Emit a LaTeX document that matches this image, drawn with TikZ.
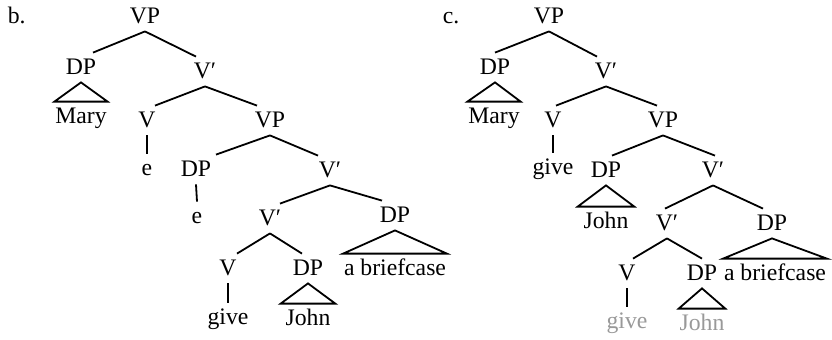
\documentclass[tikz,border=0pt]{standalone}
\usepackage{fontspec}
\setmainfont{Liberation Serif}
\usepackage{tikz}

\tikzset{
  lbl/.style={anchor=base, font=\fontsize{11.85}{14}\selectfont, text height=7pt, text depth=0.5pt, inner xsep=0pt, inner ysep=3.25pt},
  copy/.style={lbl, text=black!40},
}

\begin{document}
\begin{tikzpicture}[x=0.5pt,y=-0.5pt,line width=0.9pt]
\useasboundingbox (0,0) rectangle (832,339);

%tree b
\node[lbl,anchor=base west] (lblb) at (7,23) {b.};
\node[lbl] (bVP) at (145,23) {VP};
\node[lbl] (bDP) at (81,74) {DP};
\node[lbl] (bVbar) at (205,78) {V′};
\node[lbl] (bMary) at (81,123) {Mary};
\node[lbl] (bV) at (147,127) {V};
\node[lbl] (bVPb) at (270,127) {VP};
\node[lbl] (bea) at (147,175) {e};
\node[lbl] (bDPb) at (196,176) {DP};
\node[lbl] (bVbarb) at (330,177) {V′};
\node[lbl] (beb) at (197,223) {e};
\node[lbl] (bVbarc) at (270,225) {V′};
\node[lbl] (bDPc) at (395,222) {DP};
\node[lbl] (bVb) at (228,275) {V};
\node[lbl] (bDPd) at (308,275) {DP};
\node[lbl] (bcase) at (395,275) {a briefcase};
\node[lbl] (bgive) at (228,324) {give};
\node[lbl,inner xsep=2pt] (bJohn) at (308,325) {John};

\draw (bVP.south) -- ([xshift=6pt]bDP.north);
\draw (bVP.south) -- ([xshift=-4.5pt]bVbar.north);
\draw (bDP.south) -- (bMary.north west) -- (bMary.north east) -- cycle;
\draw (bVbar.south) -- ([xshift=4pt]bV.north);
\draw (bVbar.south) -- ([xshift=-6.5pt]bVPb.north);
\draw (bV.south) -- (bea.north);
\draw (bVPb.south) -- ([xshift=10pt]bDPb.north);
\draw (bVPb.south) -- ([xshift=-6pt]bVbarb.north);
\draw (bDPb.south) -- (beb.north);
\draw (bVbarb.south) -- ([xshift=5pt]bVbarc.north);
\draw (bVbarb.south) -- ([xshift=-6.5pt]bDPc.north);
\draw (bDPc.south) -- (bcase.north west) -- (bcase.north east) -- cycle;
\draw (bVbarc.south) -- ([xshift=4.5pt]bVb.north);
\draw (bVbarc.south) -- ([xshift=-3pt]bDPd.north);
\draw (bVb.south) -- (bgive.north);
\draw (bDPd.south) -- (bJohn.north west) -- (bJohn.north east) -- cycle;

%tree c
\node[lbl,anchor=base west] (lblc) at (442,23) {c.};
\node[lbl] (cVP) at (549,23) {VP};
\node[lbl] (cDP) at (495,74) {DP};
\node[lbl] (cVbar) at (606,78) {V′};
\node[lbl] (cMary) at (494,123) {Mary};
\node[lbl] (cV) at (553,127) {V};
\node[lbl] (cVPb) at (663,127) {VP};
\node[lbl] (cgive) at (553,174) {give};
\node[lbl] (cDPb) at (606,177) {DP};
\node[lbl] (cVbarb) at (713,177) {V′};
\node[lbl,inner xsep=2.5pt] (cJohn) at (606,228) {John};
\node[lbl] (cVbarc) at (667,230) {V′};
\node[lbl] (cDPc) at (772,230) {DP};
\node[lbl] (cVb) at (627,280) {V};
\node[lbl] (cDPd) at (702,280) {DP};
\node[lbl] (ccase) at (775,280) {a briefcase};
\node[copy] (cgiveb) at (627,328) {give};
\node[copy] (cJohnb) at (702,330) {John};

\draw (cVP.south) -- (cDP.north);
\draw (cVP.south) -- ([xshift=-4.5pt]cVbar.north);
\draw (cDP.south) -- (cMary.north west) -- (cMary.north east) -- cycle;
\draw (cVbar.south) -- ([xshift=1.5pt]cV.north);
\draw (cVbar.south) -- ([xshift=-3pt]cVPb.north);
\draw (cV.south) -- (cgive.north);
\draw (cVPb.south) -- ([xshift=3pt]cDPb.north);
\draw (cVPb.south) -- ([xshift=1pt]cVbarb.north);
\draw (cDPb.south) -- (cJohn.north west) -- (cJohn.north east) -- cycle;
\draw (cVbarb.south) -- ([xshift=-1pt]cVbarc.north);
\draw (cVbarb.south) -- ([xshift=-4.5pt]cDPc.north);
\draw (cDPc.south) -- (ccase.north west) -- (ccase.north east) -- cycle;
\draw (cVbarc.south) -- ([xshift=3pt]cVb.north);
\draw (cVbarc.south) -- (cDPd.north);
\draw (cVb.south) -- (cgiveb.north);
\draw (cDPd.south) -- (cJohnb.north west) -- (cJohnb.north east) -- cycle;

\end{tikzpicture}
\end{document}
